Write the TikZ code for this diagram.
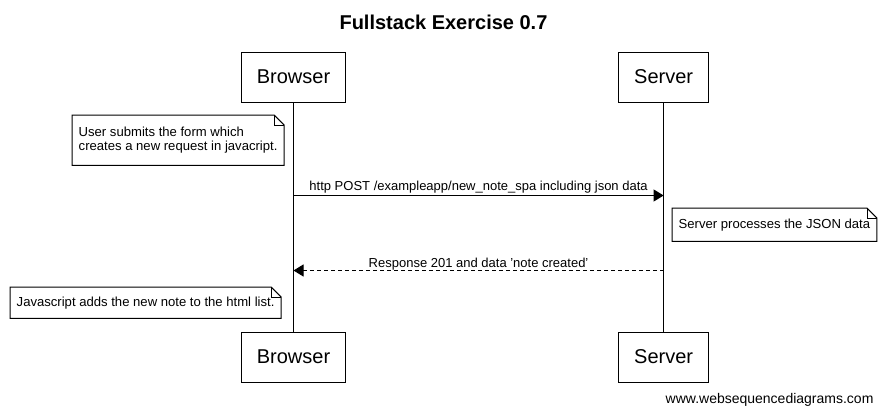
\documentclass[tikz,border=0pt]{standalone}
\usepackage{fontspec}
\setmainfont{Liberation Sans}
\usetikzlibrary{positioning,arrows.meta}

\tikzstyle{actor} = [draw, rectangle, line width=1pt, inner xsep=15.5pt,
    minimum height=50pt, font=\fontsize{20}{24}\selectfont]
\tikzstyle{note} = [rectangle, align=left, anchor=north west, inner xsep=6.5pt,
    font=\fontsize{13.1}{14}\selectfont]
\tikzstyle{life} = [line width=1pt]
\tikzstyle{msg} = [line width=1pt, -{Triangle[length=10pt,width=12pt]}]
\tikzstyle{reply} = [msg, dash pattern=on 4pt off 3pt]
\tikzstyle{label} = [above, inner sep=1.5pt, font=\fontsize{13}{16}\selectfont]

% note outline with a folded corner
\newcommand{\foldnote}[1]{%
  \draw[line width=1pt] (#1.north west) -- ([xshift=-10pt]#1.north east)
    -- ([yshift=-10pt]#1.north east) -- (#1.south east) -- (#1.south west) -- cycle;
  \draw[line width=0.5pt] ([xshift=-10pt]#1.north east) |- ([yshift=-10pt]#1.north east);}

\begin{document}
\begin{tikzpicture}[x=1pt, y=-1pt, node distance=229pt, >=latex]
    \useasboundingbox (0,0) rectangle (887,415);
    \node [font=\bfseries\fontsize{20}{24}\selectfont] (title) at (443.5,22) {Fullstack Exercise 0.7};

    % We start by placing the participants
    \node [actor] (browser) at (293.5,77) {Browser};
    \node [actor, right=272pt of browser] (server) {Server};
    \node [actor, below=229pt of browser] (browser2) {Browser};
    \node [actor, below=229pt of server] (server2) {Server};

    \draw [life] (browser) -- (browser2);
    \draw [life] (server) -- (server2);

    % notes
    \node [note, minimum height=50pt] (submit) at (72,115)
        {User submits the form which\\creates a new request in javacript.};
    \foldnote{submit}
    \node [note, minimum height=33pt] (process) at (672,208)
        {Server processes the JSON data};
    \foldnote{process}
    \node [note, minimum height=31pt] (adds) at (10,287)
        {Javascript adds the new note to the html list.};
    \foldnote{adds}

    % messages
    \draw [msg] (browser |- 0,195.5) -- node [label]
        {http POST /exampleapp/new\_note\_spa including json data} (server |- 0,195.5);
    \draw [reply] (server |- 0,270.5) -- node [label, yshift=-1.5pt]
        {Response 201 and data 'note created'} (browser |- 0,270.5);

    \node [anchor=east, font=\fontsize{14}{16}\selectfont] (footer) at (877,400)
        {www.websequencediagrams.com};
\end{tikzpicture}
\end{document}
